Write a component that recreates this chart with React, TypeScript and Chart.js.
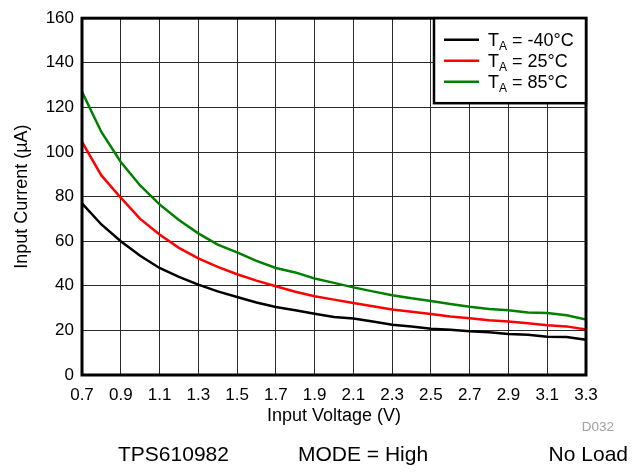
import React, { useEffect, useRef } from "react";
import { Chart, registerables } from "chart.js";

Chart.register(...registerables);

const voltages = [0.7, 0.8, 0.9, 1.0, 1.1, 1.2, 1.3, 1.4, 1.5, 1.6, 1.7, 1.8, 1.9, 2.0, 2.1, 2.2, 2.3, 2.4, 2.5, 2.6, 2.7, 2.8, 2.9, 3.0, 3.1, 3.2, 3.3];
const currentM40 = [77, 67.5, 60, 53.5, 48, 44, 40.5, 37.5, 35, 32.5, 30.5, 29, 27.5, 26, 25.3, 24, 22.5, 21.8, 20.7, 20.3, 19.6, 19.2, 18.4, 18, 17.2, 17, 15.8];
const current25 = [104.5, 89.5, 79.5, 70, 63, 57, 52.3, 48.5, 45.2, 42.3, 39.8, 37.3, 35.3, 33.8, 32.3, 30.8, 29.4, 28.4, 27.4, 26.2, 25.4, 24.5, 24, 23.2, 22.3, 21.8, 20.4];
const current85 = [127, 109, 95.5, 85, 76.5, 69.5, 63.5, 58.5, 55, 51.2, 48, 46, 43.3, 41.3, 39.3, 37.5, 35.8, 34.4, 33.2, 31.8, 30.6, 29.6, 29, 28, 27.8, 26.8, 24.9];

const seriesTemps = ["-40°C", "25°C", "85°C"];
const seriesColors = ["#000000", "#ff0000", "#008000"];
const seriesValues = [currentM40, current25, current85];

const xTitle = "Input Voltage (V)";
const yTitle = "Input Current (µA)";
const footerLeft = "TPS610982";
const footerMid = "MODE = High";
const footerRight = "No Load";
const figId = "D032";

const FONT = "'Liberation Sans', Arial, Helvetica, sans-serif";

const framePlugin = {
  id: "frameAndLegend",
  afterDraw(chart: any) {
    const { ctx, chartArea } = chart;
    const { left, right, top, bottom } = chartArea;
    ctx.save();
    // frame
    ctx.strokeStyle = "#000";
    ctx.lineWidth = 3;
    ctx.strokeRect(left, top, right - left, bottom - top);

    // legend
    const bw = 152;
    const bh = 85;
    const bx = right - bw;
    const by = top;
    ctx.fillStyle = "#fff";
    ctx.fillRect(bx, by, bw, bh);
    ctx.lineWidth = 2.5;
    ctx.strokeRect(bx, by, bw, bh);
    seriesTemps.forEach((t, i) => {
      const ly = by + 21.5 + i * 21;
      ctx.strokeStyle = seriesColors[i];
      ctx.lineWidth = 2.5;
      ctx.beginPath();
      ctx.moveTo(bx + 10, ly);
      ctx.lineTo(bx + 45, ly);
      ctx.stroke();
      ctx.fillStyle = "#000";
      ctx.textBaseline = "alphabetic";
      ctx.textAlign = "left";
      let tx = bx + 54;
      const base = ly + 6.7;
      ctx.font = `18px ${FONT}`;
      ctx.fillText("T", tx, base);
      tx += ctx.measureText("T").width;
      ctx.font = `12px ${FONT}`;
      ctx.fillText("A", tx, base + 3.5);
      tx += ctx.measureText("A").width;
      ctx.font = `18px ${FONT}`;
      ctx.fillText(" = " + t, tx, base);
    });

    // footer
    ctx.fillStyle = "#000";
    ctx.font = `21px ${FONT}`;
    ctx.textBaseline = "alphabetic";
    ctx.textAlign = "left";
    ctx.fillText(footerLeft, 118, 461);
    ctx.fillText(footerMid, 298, 461);
    ctx.textAlign = "right";
    ctx.fillText(footerRight, 628, 461);
    ctx.fillStyle = "#a0a0a0";
    ctx.font = `13.5px ${FONT}`;
    ctx.fillText(figId, 614, 431);
    ctx.restore();
  },
};

export default function App() {
  const canvasRef = useRef<HTMLCanvasElement | null>(null);

  useEffect(() => {
    document.body.style.margin = "0";
    const canvas = canvasRef.current;
    if (!canvas) return;
    const chart = new Chart(canvas, {
      type: "line",
      data: {
        datasets: seriesValues.map((vals, i) => ({
          label: "T_A = " + seriesTemps[i],
          data: voltages.map((v, j) => ({ x: v, y: vals[j] })),
          borderColor: seriesColors[i],
          backgroundColor: seriesColors[i],
          borderWidth: 2.5,
          pointRadius: 0,
          tension: 0,
          fill: false,
        })),
      },
      options: {
        animation: false,
        responsive: true,
        maintainAspectRatio: false,
        layout: { padding: { top: 17, right: 57, bottom: 45, left: 0 } },
        plugins: {
          legend: { display: false },
          tooltip: { enabled: false },
        },
        scales: {
          x: {
            type: "linear",
            min: 0.7,
            max: 3.3,
            afterFit: (s: any) => {
              s.height = 52;
            },
            ticks: {
              stepSize: 0.2,
              callback: (v: any) => Number(v).toFixed(1),
              font: { family: FONT, size: 17 },
              color: "#000",
              padding: 10,
              maxRotation: 0,
              autoSkip: false,
            },
            grid: { color: "#2a2a2a", lineWidth: 1, drawTicks: false },
            border: { display: false },
            title: {
              display: true,
              text: xTitle,
              font: { family: FONT, size: 18 },
              color: "#000",
              padding: { top: 0, bottom: 0 },
            },
          },
          y: {
            min: 0,
            max: 160,
            afterFit: (s: any) => {
              s.width = 82;
            },
            ticks: {
              stepSize: 20,
              font: { family: FONT, size: 17 },
              color: "#000",
              padding: 8,
            },
            grid: { color: "#2a2a2a", lineWidth: 1, drawTicks: false },
            border: { display: false },
            title: {
              display: true,
              text: yTitle,
              font: { family: FONT, size: 18 },
              color: "#000",
              padding: { top: 11, bottom: 0 },
            },
          },
        },
      },
      plugins: [framePlugin],
    });
    return () => chart.destroy();
  }, []);

  return (
    <div style={{ position: "relative", width: 643, height: 472 }}>
      <canvas ref={canvasRef} />
    </div>
  );
}
